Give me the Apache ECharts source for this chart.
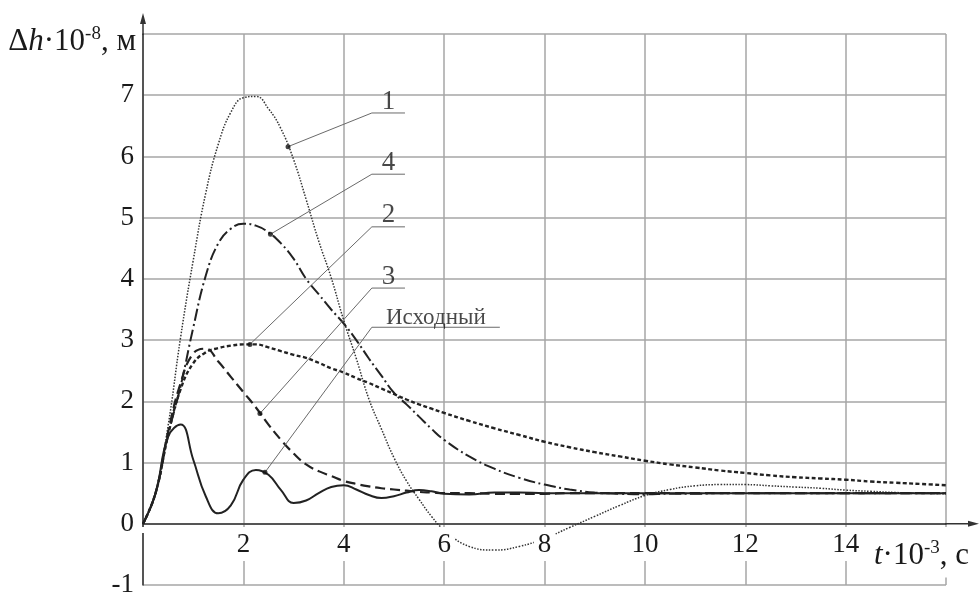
<!DOCTYPE html>
<html>
<head>
<meta charset="utf-8">
<script src="https://cdn.jsdelivr.net/npm/echarts@6/dist/echarts.min.js"></script>
<style>
  html, body { margin: 0; padding: 0; background: #fff; }
  #main { width: 979px; height: 593px; }
</style>
</head>
<body>
<div id="main"></div>
<script>
// время, t·10^-3 c
var t = [0, 0.25, 0.5, 0.75, 1, 1.25, 1.5, 1.75, 2, 2.25, 2.5, 2.75, 3, 3.25, 3.5, 3.75, 4, 4.25, 4.5, 4.75, 5, 5.25, 5.5, 5.75, 6,
  6.5, 7, 7.5, 8, 8.5, 9, 9.5, 10, 10.5, 11, 11.5, 12, 12.5, 13, 13.5, 14, 14.5, 15, 15.5, 16];

// кривые Δh·10^-8 м
var curve1 = [0, 0.5, 1.6, 3.05, 4.3, 5.4, 6.2, 6.72, 6.96, 6.98, 6.78, 6.45, 5.95, 5.3, 4.62, 4.02, 3.32, 2.7, 2.04, 1.55, 1.08, 0.7, 0.4, 0.12, -0.1,
  -0.37, -0.43, -0.37, -0.24, -0.06, 0.12, 0.3, 0.46, 0.56, 0.62, 0.64, 0.64, 0.62, 0.6, 0.58, 0.55, 0.53, 0.51, 0.5, 0.49];
var curve2 = [0, 0.5, 1.45, 2.2, 2.62, 2.8, 2.87, 2.91, 2.93, 2.93, 2.88, 2.82, 2.76, 2.71, 2.63, 2.54, 2.47, 2.38, 2.3, 2.21, 2.12, 2.03, 1.95, 1.88, 1.81,
  1.68, 1.56, 1.45, 1.34, 1.25, 1.17, 1.1, 1.03, 0.97, 0.92, 0.87, 0.83, 0.79, 0.76, 0.74, 0.72, 0.69, 0.67, 0.65, 0.63];
var curve3 = [0, 0.5, 1.5, 2.3, 2.78, 2.86, 2.65, 2.4, 2.15, 1.9, 1.62, 1.37, 1.15, 0.97, 0.86, 0.78, 0.7, 0.65, 0.61, 0.58, 0.56, 0.54, 0.52, 0.51, 0.5,
  0.5, 0.49, 0.49, 0.49, 0.5, 0.5, 0.5, 0.5, 0.5, 0.5, 0.5, 0.5, 0.5, 0.5, 0.5, 0.5, 0.5, 0.5, 0.5, 0.5];
var curve4 = [0, 0.5, 1.45, 2.25, 3.2, 4.05, 4.58, 4.82, 4.9, 4.87, 4.76, 4.58, 4.33, 4.0, 3.75, 3.5, 3.27, 3.0, 2.7, 2.42, 2.14, 1.95, 1.75, 1.55, 1.37,
  1.1, 0.9, 0.75, 0.64, 0.56, 0.51, 0.49, 0.48, 0.49, 0.49, 0.5, 0.5, 0.5, 0.5, 0.5, 0.5, 0.5, 0.5, 0.5, 0.5];
var baseCurve = [0, 0.5, 1.42, 1.62, 1.05, 0.45, 0.17, 0.3, 0.72, 0.88, 0.8, 0.55, 0.34, 0.38, 0.5, 0.6, 0.63, 0.56, 0.47, 0.42, 0.45, 0.51, 0.55, 0.53, 0.49,
  0.48, 0.51, 0.51, 0.5, 0.5, 0.5, 0.5, 0.5, 0.5, 0.5, 0.5, 0.5, 0.5, 0.5, 0.5, 0.5, 0.5, 0.5, 0.5, 0.5];

// подписи кривых: точка на кривой и полочка [x1, x2, y]
var calloutText = ['1', '4', '2', '3', 'Исходный'];
var calloutDot = [[2.89, 6.16], [2.54, 4.73], [2.13, 2.93], [2.33, 1.80], [2.43, 0.84]];
var calloutShelf = [[4.56, 5.22, 6.71], [4.56, 5.22, 5.71], [4.56, 5.22, 4.85], [4.56, 5.22, 3.85], [4.56, 7.11, 3.21]];

var FONT = "'Liberation Serif', 'Times New Roman', serif";
var INK = '#1a1a1a';

function zip(ys) {
  return t.map(function (x, i) { return [x, ys[i]]; });
}

function curve(data, lineStyle) {
  return {
    type: 'line', smooth: 0.45, symbol: 'none', z: 2,
    data: zip(data),
    lineStyle: Object.assign({ color: '#222', width: 2 }, lineStyle)
  };
}

var series = [
  curve(curve1, { color: '#333', width: 1.5, type: [1.5, 1.5] }),
  curve(curve4, { width: 2, type: [12, 3.5, 2, 3.5] }),
  curve(curve2, { width: 2.4, type: [4, 2.5] }),
  curve(curve3, { width: 2.2, type: [10, 5] }),
  curve(baseCurve, { width: 2 })
];

// выноски
calloutText.forEach(function (txt, i) {
  var d = calloutDot[i], s = calloutShelf[i];
  series.push({
    type: 'line', symbol: 'none', z: 3, silent: true,
    data: [d, [s[0], s[2]], [s[1], s[2]]],
    lineStyle: { color: '#6a6a6a', width: 1 }
  });
  series.push({
    type: 'scatter', symbolSize: 5, z: 4, silent: true,
    itemStyle: { color: '#111' },
    data: [d]
  });
  series.push({
    type: 'scatter', symbolSize: 0, z: 4, silent: true,
    data: [[(s[0] + s[1]) / 2, s[2]]],
    label: {
      show: true, position: 'top', distance: -2,
      formatter: txt, color: INK, fontFamily: FONT,
      fontSize: txt.length > 1 ? 23 : 27
    }
  });
});

var titleRich = {
  d: { fontFamily: FONT, fontSize: 31, fontWeight: 'normal', color: INK, lineHeight: 34 },
  i: { fontFamily: FONT, fontSize: 31, fontWeight: 'normal', color: INK, fontStyle: 'italic', lineHeight: 34 },
  s: { fontFamily: FONT, fontSize: 19, fontWeight: 'normal', color: INK, verticalAlign: 'top', lineHeight: 18 }
};

var chart = echarts.init(document.getElementById('main'));
chart.setOption({
  animation: false,
  backgroundColor: '#fff',
  // подпись оси времени
  title: {
    text: '{i|t}{d|·10}{s|-3}{d|, с}',
    left: 872, top: 531, z: 6,
    backgroundColor: '#fff', padding: [8, 2, 6, 2],
    textStyle: { fontWeight: 'normal', rich: titleRich }
  },
  grid: { left: 143, right: 33, top: 34, bottom: 8, containLabel: false, outerBoundsMode: 'none' },
  xAxis: [{
    type: 'value', min: 0, max: 16, interval: 2,
    axisLine: {
      show: true, onZero: true,
      lineStyle: { color: '#333', width: 1.5 },
      symbol: ['none', 'path://M3,0 L6,11 L3.75,11 L3.75,34 L2.25,34 L2.25,11 L0,11 Z'],
      symbolSize: [6, 34], symbolOffset: [0, 16]
    },
    axisTick: { show: false },
    axisLabel: { show: false },
    splitLine: { show: true, lineStyle: { color: '#a6a6a6', width: 1.5 } }
  }, {
    // только подписи, поверх кривых
    type: 'value', min: 0, max: 16, interval: 2, position: 'bottom', offset: -58, z: 5,
    axisLine: { show: false, onZero: false },
    axisTick: { show: false },
    splitLine: { show: false },
    axisLabel: {
      margin: 0, fontFamily: FONT, fontSize: 27, color: INK, lineHeight: 28,
      backgroundColor: '#fff', padding: [4, 4, 2, 4],
      formatter: function (v) { return (v === 0 || v === 16) ? '' : String(v); }
    }
  }],
  yAxis: {
    type: 'value', min: -1, max: 8, interval: 1,
    axisLine: {
      show: true, onZero: false,
      lineStyle: { color: '#333', width: 1.5 },
      symbol: ['none', 'path://M3,0 L6,11 L3.75,11 L3.75,22 L2.25,22 L2.25,11 L0,11 Z'],
      symbolSize: [6, 22], symbolOffset: [0, 10]
    },
    axisTick: { show: false },
    axisLabel: {
      margin: 9, fontFamily: FONT, fontSize: 27, color: INK,
      formatter: function (v) { return v === 8 ? '' : String(v); }
    },
    splitLine: { show: true, lineStyle: { color: '#a6a6a6', width: 1.5 } },
    name: '{d|Δ}{i|h}{d|·10}{s|-8}{d|, м}',
    nameLocation: 'end', nameGap: -8,
    nameTextStyle: { align: 'right', verticalAlign: 'middle', padding: [0, 7, 0, 0], rich: titleRich }
  },
  series: series
});
</script>
</body>
</html>
